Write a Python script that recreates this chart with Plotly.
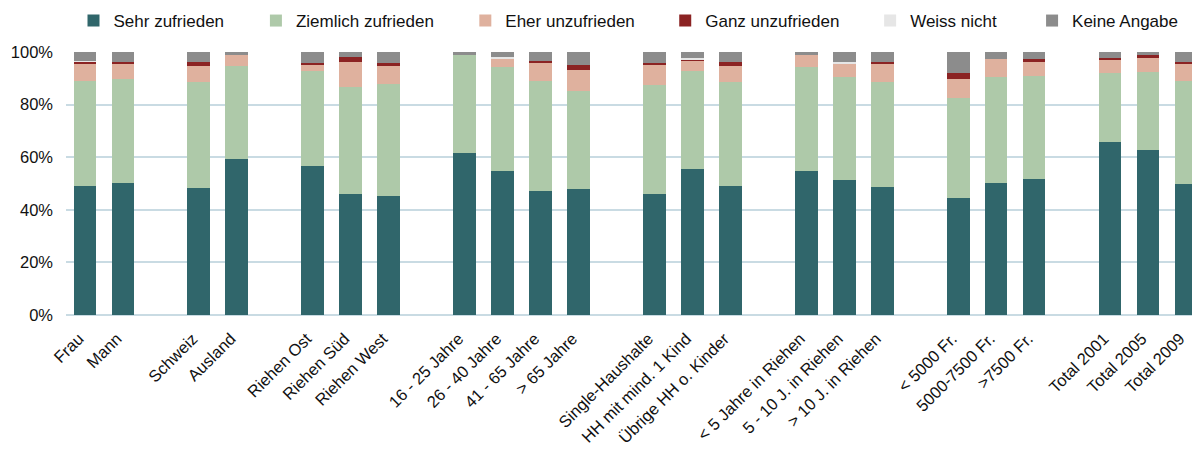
import plotly.graph_objects as go

categories = ["Frau", "Mann", "Schweiz", "Ausland", "Riehen Ost", "Riehen Süd", "Riehen West",
              "16 - 25 Jahre", "26 - 40 Jahre", "41 - 65 Jahre", "> 65 Jahre",
              "Single-Haushalte", "HH mit mind. 1 Kind", "Übrige HH o. Kinder",
              "< 5 Jahre in Riehen", "5 - 10 J. in Riehen", "> 10 J. in Riehen",
              "< 5000 Fr.", "5000-7500 Fr.", ">7500 Fr.",
              "Total 2001", "Total 2005", "Total 2009"]
group_sizes = [2, 2, 3, 4, 3, 3, 3, 3]

sehr = [49.0, 50.1, 48.2, 59.3, 56.6, 45.9, 45.1, 61.6, 54.7, 47.0, 47.8, 45.9, 55.5, 49.0,
        54.7, 51.2, 48.5, 44.3, 50.1, 51.7, 65.9, 62.8, 49.7]
ziemlich = [39.8, 39.5, 40.4, 35.4, 36.1, 40.8, 42.8, 37.3, 39.6, 42.0, 37.4, 41.5, 37.2, 39.6,
            39.6, 39.3, 40.1, 38.2, 40.4, 39.2, 26.1, 29.7, 39.2]
eher = [7.0, 5.8, 6.1, 4.2, 2.3, 9.5, 6.8, 0.0, 3.0, 6.8, 8.0, 7.6, 3.8, 6.1,
        4.6, 5.3, 6.8, 7.2, 6.8, 5.3, 4.9, 5.3, 6.5]
ganz = [0.5, 0.8, 1.5, 0.0, 0.8, 1.9, 1.1, 0.0, 0.0, 0.8, 1.9, 0.8, 0.8, 1.5,
        0.0, 0.0, 0.8, 2.3, 0.0, 1.1, 0.8, 1.1, 0.8]
weiss = [0.4, 0.0, 0.0, 0.0, 0.0, 0.0, 0.0, 0.0, 0.8, 0.0, 0.0, 0.0, 0.4, 0.0,
         0.0, 0.4, 0.0, 0.0, 0.0, 0.0, 0.0, 0.0, 0.0]
keine = [3.3, 3.8, 3.8, 1.1, 4.2, 1.9, 4.2, 1.1, 1.9, 3.4, 4.9, 4.2, 2.3, 3.8,
         1.1, 3.8, 3.8, 8.0, 2.7, 2.7, 2.3, 1.1, 3.8]

series_names = ["Sehr zufrieden", "Ziemlich zufrieden", "Eher unzufrieden",
                "Ganz unzufrieden", "Weiss nicht", "Keine Angabe"]
series_values = [sehr, ziemlich, eher, ganz, weiss, keine]
colors = ["#30666b", "#aec9a9", "#dfb19e", "#8b2323", "#e6e6e6", "#8c8c8c"]
y_tick_values = [0, 20, 40, 60, 80, 100]
y_tick_labels = ["0%", "20%", "40%", "60%", "80%", "100%"]

# category positions with a one-slot gap between groups
positions = []
idx = 0
for g, size in enumerate(group_sizes):
    for k in range(size):
        positions.append(idx + g)
        idx += 1

W, H = 1192, 453
L, T, B = 65.5, 52, 138
plot_w = W - L
slot = 37.98
x_end = -0.5 + plot_w / slot

legend_marker_px = [89, 271.5, 481, 681, 886, 1048]
font_family = "Liberation Sans, Arial, sans-serif"

fig = go.Figure()
layout_legends = {}
for i, (name, vals, col) in enumerate(zip(series_names, series_values, colors)):
    lname = "legend" if i == 0 else f"legend{i+1}"
    fig.add_trace(go.Bar(
        x=positions, y=vals, name=name, marker=dict(color=col, line=dict(width=0)),
        width=0.6, legend=lname, showlegend=True,
    ))
    layout_legends[lname] = dict(
        x=(legend_marker_px[i] - 16 - L) / plot_w, xanchor="left",
        y=1 + (T - 21) / (H - T - B), yanchor="middle",
        orientation="h", bgcolor="rgba(0,0,0,0)",
        font=dict(family=font_family, size=17, color="#111111"),
    )

fig.update_layout(
    width=W, height=H,
    margin=dict(l=L, r=0, t=T, b=B, pad=0, autoexpand=False),
    barmode="stack",
    showlegend=True,
    plot_bgcolor="white", paper_bgcolor="white",
    font=dict(family=font_family, size=16, color="#111111"),
    **layout_legends,
)
fig.update_xaxes(
    tickmode="array", tickvals=positions, ticktext=categories,
    range=[-0.5, x_end], tickangle=-45, showgrid=False, zeroline=False,
    showline=False, ticks="", tickfont=dict(size=16.5), ticklabelstandoff=10,
    ticklabelshift=-6, ticklabeloverflow="allow", automargin=False,
)
fig.update_yaxes(
    range=[0, 100], tickmode="array", tickvals=y_tick_values, ticktext=y_tick_labels,
    showgrid=True, gridcolor="#c9dbe3", gridwidth=2,
    zeroline=True, zerolinecolor="#c9dbe3", zerolinewidth=2,
    showline=False, ticks="", ticklabelstandoff=12, tickfont=dict(size=16.5),
    automargin=False,
)

fig.write_html("out.html", config={"displayModeBar": False},
               post_script="document.body.style.margin='0';document.body.style.overflow='hidden';")
